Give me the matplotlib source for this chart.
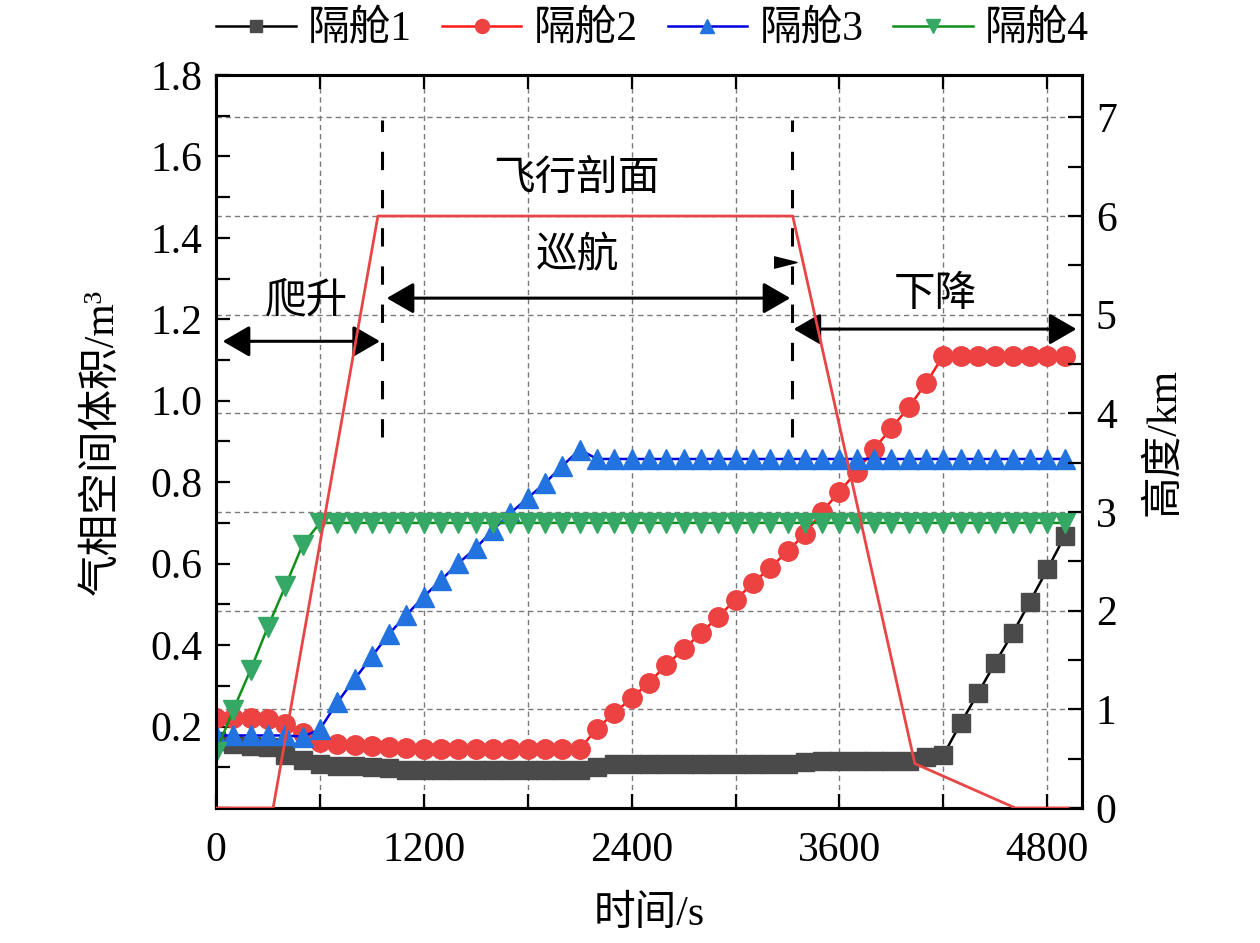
import numpy as np
import matplotlib
matplotlib.use('Agg')
import matplotlib.pyplot as plt
from matplotlib.ticker import MultipleLocator
from matplotlib.transforms import blended_transform_factory

plt.rcParams['font.family'] = ['Liberation Serif', 'Noto Sans CJK SC']
plt.rcParams['font.size'] = 30
plt.rcParams['axes.unicode_minus'] = False

# time samples (s)
t = [0, 100, 200, 300, 400, 500, 600, 700, 800, 900,
     1000, 1100, 1200, 1300, 1400, 1500, 1600, 1700, 1800, 1900,
     2000, 2100, 2200, 2300, 2400, 2500, 2600, 2700, 2800, 2900,
     3000, 3100, 3200, 3300, 3400, 3500, 3600, 3700, 3800, 3900,
     4000, 4100, 4200, 4300, 4400, 4500, 4600, 4700, 4800, 4900]

# 气相空间体积 m3
cab1 = [0.165, 0.158, 0.152, 0.150, 0.130, 0.118, 0.108, 0.103, 0.102, 0.100,
        0.097, 0.094, 0.093, 0.093, 0.093, 0.093, 0.093, 0.093, 0.093, 0.093,
        0.093, 0.093, 0.101, 0.108, 0.108, 0.108, 0.108, 0.108, 0.108, 0.108,
        0.108, 0.108, 0.108, 0.108, 0.113, 0.115, 0.115, 0.115, 0.115, 0.115,
        0.115, 0.126, 0.130, 0.208, 0.282, 0.357, 0.429, 0.507, 0.586, 0.667]
cab2 = [0.222, 0.221, 0.222, 0.218, 0.207, 0.183, 0.163, 0.158, 0.155, 0.152,
        0.150, 0.147, 0.145, 0.145, 0.145, 0.145, 0.145, 0.145, 0.145, 0.145,
        0.145, 0.145, 0.195, 0.233, 0.270, 0.308, 0.351, 0.390, 0.429, 0.470,
        0.511, 0.552, 0.590, 0.630, 0.673, 0.728, 0.777, 0.826, 0.882, 0.933,
        0.984, 1.043, 1.111, 1.111, 1.111, 1.111, 1.111, 1.111, 1.111, 1.111]
cab3 = [0.178, 0.178, 0.178, 0.178, 0.178, 0.175, 0.193, 0.259, 0.316, 0.372,
        0.428, 0.474, 0.519, 0.560, 0.601, 0.638, 0.683, 0.724, 0.761, 0.798,
        0.840, 0.880, 0.857, 0.857, 0.857, 0.857, 0.857, 0.857, 0.857, 0.857,
        0.857, 0.857, 0.857, 0.857, 0.857, 0.857, 0.857, 0.857, 0.857, 0.857,
        0.857, 0.857, 0.857, 0.857, 0.857, 0.857, 0.857, 0.857, 0.857, 0.857]
cab4 = [0.138, 0.241, 0.339, 0.445, 0.544, 0.646, 0.700, 0.700, 0.700, 0.700,
        0.700, 0.700, 0.700, 0.700, 0.700, 0.700, 0.700, 0.700, 0.700, 0.700,
        0.700, 0.700, 0.700, 0.700, 0.700, 0.700, 0.700, 0.700, 0.700, 0.700,
        0.700, 0.700, 0.700, 0.700, 0.700, 0.700, 0.700, 0.700, 0.700, 0.700,
        0.700, 0.700, 0.700, 0.700, 0.700, 0.700, 0.700, 0.700, 0.700, 0.700]

# 飞行剖面 (km)
prof_t = [0, 330, 935, 3330, 4035, 4615, 4920]
prof_h = [0, 0, 6, 6, 0.45, 0, 0]

# 阶段分界 (s)
t_climb_end = 960
t_cruise_end = 3325

fig = plt.figure(figsize=(12.6, 9.43), dpi=100)
ax = fig.add_axes([0.1714, 0.1432, 0.6873, 0.7773])
ax2 = ax.twinx()

gridkw = dict(color='#7a7a7a', lw=1.0, ls=(0, (3.8, 2.8)))

l1, = ax.plot(t, cab1, color='black', lw=1.8, marker='s', ms=12.5,
              mfc='#4a4a4a', mec='#4a4a4a', label='隔舱1')
l2, = ax.plot(t, cab2, color='#ff1a1a', lw=1.8, marker='o', ms=14,
              mfc='#ec4242', mec='#ec4242', label='隔舱2')
l3, = ax.plot(t, cab3, color='#0000e0', lw=1.8, marker='^', ms=14,
              mfc='#2272e0', mec='#2272e0', label='隔舱3')
l4, = ax.plot(t, cab4, color='#10901a', lw=1.8, marker='v', ms=14,
              mfc='#35a865', mec='#35a865', label='隔舱4')

ax2.plot(prof_t, prof_h, color='#e84646', lw=2.0, zorder=3)

ax.set_xlim(0, 5000)
ax.set_ylim(0, 1.8)
ax2.set_ylim(0, 7.43)

ax.xaxis.set_major_locator(MultipleLocator(1200))
ax.xaxis.set_minor_locator(MultipleLocator(600))
ax.set_yticks([0.2, 0.4, 0.6, 0.8, 1.0, 1.2, 1.4, 1.6, 1.8])
ax.yaxis.set_minor_locator(MultipleLocator(0.1))
ax2.yaxis.set_major_locator(MultipleLocator(1))
ax2.yaxis.set_minor_locator(MultipleLocator(0.5))
ax.yaxis.set_major_formatter(matplotlib.ticker.FormatStrFormatter('%.1f'))

ax.tick_params(which='both', direction='in', top=True, right=False,
               length=10, width=1.6, pad=10)
ax.tick_params(axis='x', which='both', pad=17)
ax2.tick_params(which='both', direction='in', length=10, width=1.6, pad=10)

# grid: vertical from x ticks, horizontal from altitude ticks
ax.grid(which='both', axis='x', **gridkw)
ax.set_axisbelow(True)
tr = blended_transform_factory(ax.transAxes, ax2.transData)
for h in [1, 2, 3, 4, 5, 6, 7]:
    ax.plot([0, 1], [h, h], transform=tr, zorder=0.5, **gridkw)

for sp in ax.spines.values():
    sp.set_linewidth(2.2)
for sp in ax2.spines.values():
    sp.set_linewidth(2.2)

# stage separators
for xs in [t_climb_end, t_cruise_end]:
    ax.plot([xs, xs], [0.91, 1.69], color='black', lw=2.2, ls=(0, (6, 6.5)))

akw = dict(arrowstyle='<|-|>,head_length=0.83,head_width=0.48',
           mutation_scale=20, lw=2.2, color='black', shrinkA=0, shrinkB=0)
ax.annotate('', xy=(947, 1.146), xytext=(39, 1.146), arrowprops=akw)
ax.annotate('', xy=(3316, 1.252), xytext=(986, 1.252), arrowprops=akw)
ax.annotate('', xy=(4968, 1.176), xytext=(3335, 1.176), arrowprops=akw)
ax.plot([3284], [1.341], marker=[(-1, -0.5), (1, 0), (-1, 0.5)], ms=16.5,
        color='black', ls='none')

ax.text(2080, 1.543, '飞行剖面', ha='center', va='center')
ax.text(2086, 1.354, '巡航', ha='center', va='center')
ax.text(520, 1.241, '爬升', ha='center', va='center')
ax.text(4154, 1.258, '下降', ha='center', va='center')

ax.set_xlabel('时间/s', labelpad=18)
ax.set_ylabel('气相空间体积/m³', labelpad=20)
ax2.set_ylabel('高度/km', labelpad=20)

fig.legend(handles=[l1, l2, l3, l4], loc='center', ncol=4,
           bbox_to_anchor=(0.518, 0.968), frameon=False, markerscale=0.72,
           handlelength=1.9, handletextpad=0.3, columnspacing=0.72,
           borderaxespad=0, borderpad=0)

fig.savefig('out.png', dpi=100)
